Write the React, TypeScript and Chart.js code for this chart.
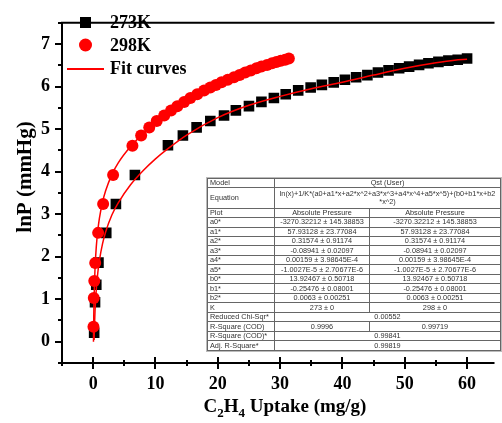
import React, { useEffect, useRef } from "react";
import { Chart, registerables } from "chart.js";

Chart.register(...registerables);

// ---- data ----
const uptake273 = [0.16, 0.3, 0.5, 0.85, 2.1, 3.65, 6.7, 12.0, 14.4, 16.6, 18.8, 21.0, 22.9, 25.0, 27.0, 29.0, 30.9, 32.9, 34.9, 36.7, 38.6, 40.4, 42.2, 44.0, 45.7, 47.4, 49.1, 50.7, 52.3, 53.8, 55.4, 57.0, 58.5, 60.0];
const lnP273 = [0.21, 0.93, 1.34, 1.86, 2.56, 3.24, 3.92, 4.62, 4.85, 5.04, 5.19, 5.32, 5.44, 5.54, 5.64, 5.73, 5.82, 5.91, 5.98, 6.04, 6.1, 6.16, 6.22, 6.27, 6.33, 6.38, 6.43, 6.47, 6.51, 6.55, 6.58, 6.61, 6.63, 6.66];

const uptake298 = [0.05, 0.1, 0.18, 0.33, 0.8, 1.6, 3.2, 6.3, 7.7, 9.0, 10.2, 11.4, 12.5, 13.5, 14.6, 15.6, 16.7, 17.8, 18.8, 19.7, 20.6, 21.6, 22.6, 23.5, 24.4, 25.3, 26.2, 27.0, 27.9, 28.7, 29.4, 30.1, 30.8, 31.4];
const lnP298 = [0.35, 1.03, 1.43, 1.85, 2.56, 3.24, 3.92, 4.61, 4.85, 5.04, 5.19, 5.32, 5.44, 5.54, 5.64, 5.73, 5.82, 5.91, 5.98, 6.04, 6.1, 6.16, 6.22, 6.27, 6.33, 6.38, 6.43, 6.47, 6.51, 6.55, 6.58, 6.61, 6.63, 6.66];

const fitX273 = [0.15, 0.2, 0.3, 0.5, 0.75, 1, 1.5, 2, 3, 4, 6, 8, 10, 12, 15, 20, 25, 30, 35, 40, 45, 50, 55, 58, 60];
const fitY273 = [0.04, 0.33, 0.73, 1.23, 1.63, 1.91, 2.3, 2.58, 2.98, 3.26, 3.69, 4.02, 4.3, 4.54, 4.86, 5.27, 5.56, 5.77, 5.95, 6.1, 6.27, 6.43, 6.56, 6.62, 6.64];

const fitX298 = [0.05, 0.07, 0.1, 0.15, 0.2, 0.3, 0.5, 0.75, 1, 1.5, 2, 3, 4, 6, 8, 10, 12, 15, 20, 25, 30, 31.4];
const fitY298 = [0.0, 0.29, 0.64, 1.04, 1.33, 1.73, 2.23, 2.62, 2.9, 3.28, 3.55, 3.93, 4.2, 4.59, 4.89, 5.15, 5.38, 5.67, 6.06, 6.36, 6.6, 6.65];

const xTickValues = [0, 10, 20, 30, 40, 50, 60];
const xMinorValues = [-5, 5, 15, 25, 35, 45, 55];
const yTickValues = [0, 1, 2, 3, 4, 5, 6, 7];
const yMinorValues = [-0.5, 0.5, 1.5, 2.5, 3.5, 4.5, 5.5, 6.5, 7.5];

const legendLabels = ["273K", "298K", "Fit curves"];

const tableParams = ["a0*", "a1*", "a2*", "a3*", "a4*", "a5*", "b0*", "b1*", "b2*"];
const tableValues = [
  "-3270.32212 ± 145.38853",
  "57.93128 ± 23.77084",
  "0.31574 ± 0.91174",
  "-0.08941 ± 0.02097",
  "0.00159 ± 3.98645E-4",
  "-1.0027E-5 ± 2.70677E-6",
  "13.92467 ± 0.50718",
  "-0.25476 ± 0.08001",
  "0.0063 ± 0.00251",
];

const SERIF = "'Liberation Serif', 'Times New Roman', serif";

const zip = (xs: number[], ys: number[]) => xs.map((x, i) => ({ x, y: ys[i] }));

const decorPlugin = {
  id: "decor",
  afterDraw(chart: any) {
    const { ctx, chartArea: ca, scales } = chart;
    const xs = scales.x;
    const ys = scales.y;
    ctx.save();
    ctx.strokeStyle = "#000";
    ctx.lineWidth = 2;
    ctx.beginPath();
    ctx.moveTo(ca.left, ca.bottom);
    ctx.lineTo(ca.right, ca.bottom);
    ctx.moveTo(ca.left, ca.bottom + 1);
    ctx.lineTo(ca.left, ca.top);
    ctx.lineTo(ca.right, ca.top);
    ctx.stroke();

    // x ticks (crossing)
    ctx.beginPath();
    for (const v of xTickValues) {
      const p = Math.round(xs.getPixelForValue(v));
      ctx.moveTo(p, ca.bottom - 6);
      ctx.lineTo(p, ca.bottom + 6);
    }
    for (const v of xMinorValues) {
      const p = Math.round(xs.getPixelForValue(v));
      ctx.moveTo(p, ca.bottom - 3);
      ctx.lineTo(p, ca.bottom + 3);
    }
    // y ticks (outward)
    for (const v of yTickValues) {
      const p = Math.round(ys.getPixelForValue(v));
      ctx.moveTo(ca.left - 7, p);
      ctx.lineTo(ca.left, p);
    }
    for (const v of yMinorValues) {
      const p = Math.round(ys.getPixelForValue(v));
      ctx.moveTo(ca.left - 4, p);
      ctx.lineTo(ca.left, p);
    }
    ctx.stroke();

    // legend
    ctx.fillStyle = "#000";
    ctx.fillRect(80, 17, 11, 11);
    ctx.fillStyle = "#ff0000";
    ctx.beginPath();
    ctx.arc(85.5, 45, 6.5, 0, Math.PI * 2);
    ctx.fill();
    ctx.strokeStyle = "#ff0000";
    ctx.lineWidth = 2;
    ctx.beginPath();
    ctx.moveTo(67, 69);
    ctx.lineTo(104, 69);
    ctx.stroke();
    ctx.fillStyle = "#000";
    ctx.font = `bold 18px ${SERIF}`;
    ctx.textAlign = "left";
    ctx.textBaseline = "middle";
    ctx.fillText(legendLabels[0], 110, 23);
    ctx.fillText(legendLabels[1], 110, 46);
    ctx.fillText(legendLabels[2], 110, 69);

    // y title
    ctx.save();
    ctx.translate(31, 177);
    ctx.rotate(-Math.PI / 2);
    ctx.textAlign = "center";
    ctx.textBaseline = "alphabetic";
    ctx.font = `bold 21px ${SERIF}`;
    ctx.fillText("lnP (mmHg)", 0, 0);
    ctx.restore();

    // x title with subscripts
    const big = `bold 19px ${SERIF}`;
    const small = `bold 13px ${SERIF}`;
    const parts: [string, boolean][] = [["C", false], ["2", true], ["H", false], ["4", true], [" Uptake (mg/g)", false]];
    let total = 0;
    for (const [t, sub] of parts) {
      ctx.font = sub ? small : big;
      total += ctx.measureText(t).width;
    }
    let x = 285 - total / 2;
    const base = 412;
    ctx.textAlign = "left";
    ctx.textBaseline = "alphabetic";
    for (const [t, sub] of parts) {
      ctx.font = sub ? small : big;
      ctx.fillText(t, x, sub ? base + 5 : base);
      x += ctx.measureText(t).width;
    }
    ctx.restore();
  },
};

function ParamTable() {
  const cell: React.CSSProperties = {
    border: "1px solid #666",
    padding: 0,
    textAlign: "center",
    whiteSpace: "nowrap",
    overflow: "hidden",
  };
  const first: React.CSSProperties = { ...cell, textAlign: "left", paddingLeft: 2 };
  const row: React.CSSProperties = { height: 9 };
  return (
    <table
      style={{
        position: "absolute",
        left: 207,
        top: 178,
        width: 293,
        height: 173,
        borderCollapse: "collapse",
        tableLayout: "fixed",
        background: "#fff",
        fontFamily: "'Liberation Sans', Arial, sans-serif",
        fontSize: 7.3,
        lineHeight: "8px",
        color: "#333",
        boxShadow: "0 0 0 1px #bbb",
      }}
    >
      <colgroup>
        <col style={{ width: 67 }} />
        <col style={{ width: 95 }} />
        <col style={{ width: 131 }} />
      </colgroup>
      <tbody>
        <tr style={row}>
          <td style={first}>Model</td>
          <td style={cell} colSpan={2}>Qst (User)</td>
        </tr>
        <tr style={{ height: 19 }}>
          <td style={first}>Equation</td>
          <td style={cell} colSpan={2}>
            ln(x)+1/K*(a0+a1*x+a2*x^2+a3*x^3+a4*x^4+a5*x^5)+(b0+b1*x+b2
            <br />
            *x^2)
          </td>
        </tr>
        <tr style={row}>
          <td style={first}>Plot</td>
          <td style={cell}>Absolute Pressure</td>
          <td style={cell}>Absolute Pressure</td>
        </tr>
        {tableParams.map((p, i) => (
          <tr style={row} key={p}>
            <td style={first}>{p}</td>
            <td style={cell}>{tableValues[i]}</td>
            <td style={cell}>{tableValues[i]}</td>
          </tr>
        ))}
        <tr style={row}>
          <td style={first}>K</td>
          <td style={cell}>273 ± 0</td>
          <td style={cell}>298 ± 0</td>
        </tr>
        <tr style={row}>
          <td style={first}>Reduced Chi-Sqr*</td>
          <td style={cell} colSpan={2}>0.00552</td>
        </tr>
        <tr style={row}>
          <td style={first}>R-Square (COD)</td>
          <td style={cell}>0.9996</td>
          <td style={cell}>0.99719</td>
        </tr>
        <tr style={row}>
          <td style={first}>R-Square (COD)*</td>
          <td style={cell} colSpan={2}>0.99841</td>
        </tr>
        <tr style={row}>
          <td style={first}>Adj. R-Square*</td>
          <td style={cell} colSpan={2}>0.99819</td>
        </tr>
      </tbody>
    </table>
  );
}

export default function App() {
  const canvasRef = useRef<HTMLCanvasElement | null>(null);

  useEffect(() => {
    document.body.style.margin = "0";
    const canvas = canvasRef.current;
    if (!canvas) return;
    const tickFont = { family: SERIF, size: 18, weight: "bold" as const };
    const chart = new Chart(canvas, {
      type: "scatter",
      data: {
        datasets: [
          {
            label: "fit273",
            data: zip(fitX273, fitY273),
            showLine: true,
            borderColor: "#ff0000",
            borderWidth: 1.5,
            pointRadius: 0,
            cubicInterpolationMode: "monotone",
            order: 0,
          },
          {
            label: "fit298",
            data: zip(fitX298, fitY298),
            showLine: true,
            borderColor: "#ff0000",
            borderWidth: 1.5,
            pointRadius: 0,
            cubicInterpolationMode: "monotone",
            order: 0,
          },
          {
            label: legendLabels[1],
            data: zip(uptake298, lnP298),
            pointStyle: "circle",
            pointRadius: 6,
            backgroundColor: "#ff0000",
            borderWidth: 0,
            order: 1,
          },
          {
            label: legendLabels[0],
            data: zip(uptake273, lnP273),
            pointStyle: "rect",
            pointRadius: 7.5,
            backgroundColor: "#000",
            borderColor: "#000",
            borderWidth: 0,
            order: 2,
          },
        ],
      },
      options: {
        responsive: false,
        animation: false,
        events: [],
        layout: { padding: { top: 5, right: 0, left: 0, bottom: 0 } },
        plugins: { legend: { display: false }, tooltip: { enabled: false } },
        scales: {
          x: {
            type: "linear",
            min: -5,
            max: 64.4,
            grid: { display: false, drawTicks: false },
            border: { display: false },
            afterBuildTicks: (s: any) => {
              s.ticks = xTickValues.map((v) => ({ value: v }));
            },
            afterFit: (s: any) => {
              s.height = 60;
            },
            ticks: { font: tickFont, color: "#000", padding: 11, maxRotation: 0, autoSkip: false },
          },
          y: {
            type: "linear",
            min: -0.5,
            max: 7.5,
            grid: { display: false, drawTicks: false },
            border: { display: false },
            afterBuildTicks: (s: any) => {
              s.ticks = yTickValues.map((v) => ({ value: v }));
            },
            afterFit: (s: any) => {
              s.width = 62;
            },
            ticks: { font: tickFont, color: "#000", padding: 12, autoSkip: false },
          },
        },
      },
      plugins: [decorPlugin],
    });
    return () => chart.destroy();
  }, []);

  return (
    <div style={{ position: "relative", width: 502, height: 423, background: "#fff", overflow: "hidden" }}>
      <canvas ref={canvasRef} width={502} height={423} style={{ position: "absolute", left: 0, top: 0 }} />
      <ParamTable />
    </div>
  );
}
